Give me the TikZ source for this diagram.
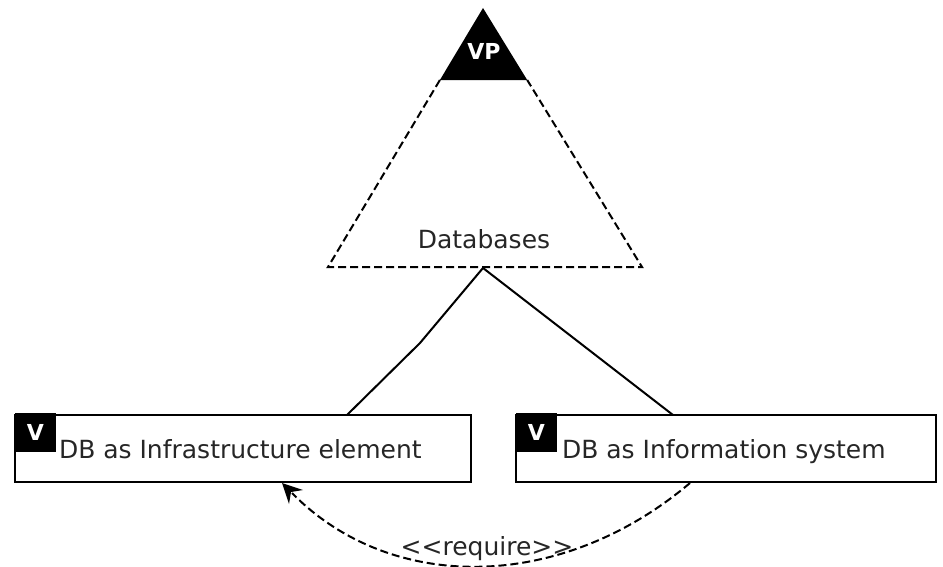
\documentclass[tikz,border=0pt]{standalone}
\usepackage{fontspec}
\setmainfont{DejaVu Sans}
\usetikzlibrary{arrows.meta,calc}
\begin{document}
\begin{tikzpicture}[x=1pt,y=-1pt,
  every node/.style={inner sep=0pt,outer sep=0pt},
  lbl/.style={font=\fontsize{25}{28}\selectfont,anchor=base west,text=black!85},
  badge/.style={fill=black,minimum width=41pt,minimum height=39pt,anchor=north west,text=white,font=\bfseries\fontsize{22}{26}\selectfont},
  vbox/.style={draw,line width=2pt,minimum height=67pt,anchor=north west},
  dsh/.style={dash pattern=on 8pt off 4pt,line width=2pt},
  conn/.style={line width=2pt}]
\useasboundingbox (0,0) rectangle (943,567);
% triangle variation point
\coordinate (apex) at (483,8);
\coordinate (bl) at (328,267);
\coordinate (br) at (642,267);
\coordinate (vpbase) at (483,268);
\fill ($(apex)!0.278!(bl)$) -- (apex) -- ($(apex)!0.278!(br)$) -- cycle;
\draw[dsh] ($(apex)!0.278!(bl)$) -- (bl) -- (br) -- ($(apex)!0.278!(br)$);
\node[text=white,font=\bfseries\fontsize{22}{26}\selectfont] (vp) at (484,51) {VP};
\node[lbl,anchor=base] (db) at (484,248) {Databases};
% variant boxes
\node[vbox,minimum width=456pt] (lbox) at (15,415) {};
\node[badge] (lv) at (15,413) {V};
\node[lbl] (ltext) at (59,458) {DB as Infrastructure element};
\node[vbox,minimum width=420pt] (rbox) at (516,415) {};
\node[badge] (rv) at (516,413) {V};
\node[lbl] (rtext) at (562,458) {DB as Information system};
% connectors
\coordinate (lk) at (420,343);
\draw[conn] (vpbase) -- (lk) -- (347,0 |- lbox.north);
\draw[conn] (vpbase) -- (673,0 |- rbox.north);
% require
\coordinate (rs) at (690,0 |- rbox.south);
\coordinate (lt) at (282,0 |- lbox.south);
\coordinate (ltip) at ($(lt)+(0,1)$);
\coordinate (c1) at (560,593);
\coordinate (c2) at (390,593);
\draw[dsh] ($(rs)+(0,1)$) .. controls (c1) and (c2) .. ($(ltip)+(10,10)$);
\fill (ltip) -- ($(ltip)+(21,7)$) -- ($(ltip)+(9,9)$) -- ($(ltip)+(7,21)$) -- cycle;
\node[lbl,anchor=base] (req) at (487,555) {{<}{<}require{>}{>}};
\end{tikzpicture}
\end{document}
